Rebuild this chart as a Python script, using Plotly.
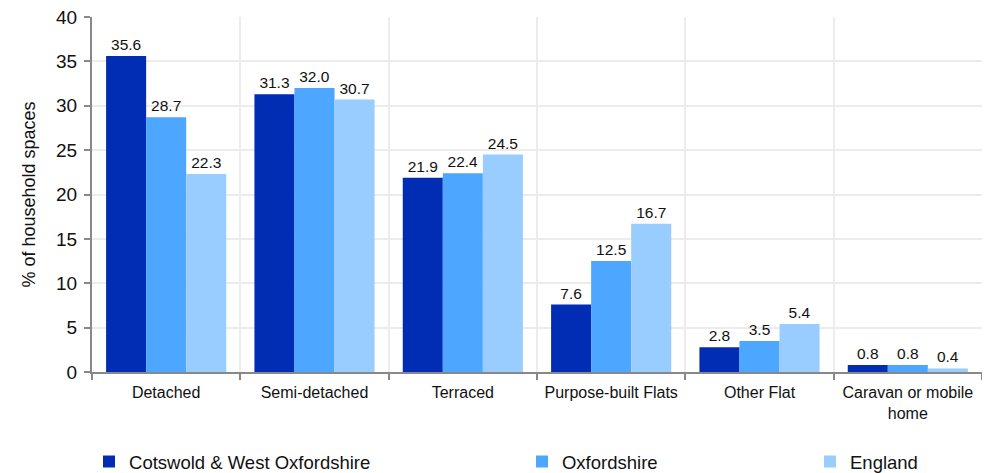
import plotly.graph_objects as go

categories = ["Detached", "Semi-detached", "Terraced", "Purpose-built Flats", "Other Flat", "Caravan or mobile<br>home"]
series_names = ["Cotswold & West Oxfordshire", "Oxfordshire", "England"]
cotswold = [35.6, 31.3, 21.9, 7.6, 2.8, 0.8]
oxfordshire = [28.7, 32.0, 22.4, 12.5, 3.5, 0.8]
england = [22.3, 30.7, 24.5, 16.7, 5.4, 0.4]
colors = ["#002db3", "#4da6ff", "#99ccff"]
y_ticks = [0, 5, 10, 15, 20, 25, 30, 35, 40]

FONT = "Liberation Sans, Arial, sans-serif"

fig = go.Figure()
legend_ids = ["legend2", "legend3", "legend4"]
for name, vals, col, lg in zip(series_names, [cotswold, oxfordshire, england], colors, legend_ids):
    fig.add_trace(go.Bar(
        x=categories, y=vals, name=name, marker=dict(color=col, line=dict(width=0)),
        text=[f"{v:.1f}" for v in vals], textposition="outside",
        textfont=dict(family=FONT, size=15.5, color="#111"),
        cliponaxis=False, legend=lg,
    ))

leg_common = dict(orientation="h", xref="container", yref="container", yanchor="middle", xanchor="left",
                  font=dict(family=FONT, size=18.5, color="#111"), bgcolor="rgba(0,0,0,0)")
fig.update_layout(
    width=982, height=465,
    margin=dict(l=84, r=8, t=9, b=101, autoexpand=False),
    paper_bgcolor="white", plot_bgcolor="white",
    barmode="group", bargap=0.19, bargroupgap=0,
    font=dict(family=FONT, size=15, color="#111"),
    legend2=dict(x=0.0825, y=0.0237, **leg_common),
    legend3=dict(x=0.5234, y=0.0237, **leg_common),
    legend4=dict(x=0.8167, y=0.0237, **leg_common),
    xaxis=dict(
        showline=True, linecolor="#888", linewidth=2,
        ticks="outside", tickson="boundaries", ticklen=6, tickcolor="#888", tickwidth=2,
        showgrid=True, gridcolor="#ececec", gridwidth=2,
        tickfont=dict(family=FONT, size=16, color="#111"),
        ticklabelstandoff=5,
    ),
    yaxis=dict(
        range=[0, 40], tickvals=y_ticks,
        showline=True, linecolor="#888", linewidth=2,
        ticks="outside", ticklen=6, tickcolor="#888", tickwidth=2,
        showgrid=True, gridcolor="#ececec", gridwidth=2,
        tickfont=dict(family=FONT, size=19, color="#111"),
        ticklabeloverflow="allow", ticklabelstandoff=3,
        title=dict(text="% of household spaces", font=dict(family=FONT, size=18, color="#111"), standoff=16),
        zeroline=False,
    ),
)
fig.write_html("out.html")
